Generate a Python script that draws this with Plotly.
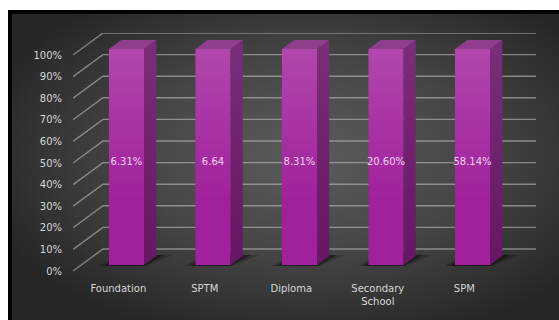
import base64
import plotly.graph_objects as go

# ---- data -------------------------------------------------------------
categories = ["Foundation", "SPTM", "Diploma", "Secondary<br>School", "SPM"]
values = [6.31, 6.64, 8.31, 20.60, 58.14]
value_labels = ["6.31%", "6.64", "8.31%", "20.60%", "58.14%"]
y_ticks = [0, 10, 20, 30, 40, 50, 60, 70, 80, 90, 100]
y_tick_text = [f"{t}%" for t in y_ticks]

# single-series 100% stacked column: each column is its share of its own stack
stack_totals = list(values)
shares = [100.0 * v / t for v, t in zip(values, stack_totals)]

# ---- pseudo-3D projection --------------------------------------------
W, H = 559, 320
PLOT_L, PLOT_R, PLOT_T, PLOT_B = 73, 536, 33, 272   # plot area in px
PX_X = 86.5        # px per category
PX_Y = 2.16        # px per percent
KX = 1.364         # horizontal shift (px) per px of depth
X0, Y0 = 118.3, 271.0   # category 0 centre / 0% baseline on the floor front
D_FRONT, D_BAR, D_BARBACK, D_WALL = 0, 6, 15, 22
BAR_W = 0.405


def axis_range(depth):
    """Axis ranges for a plane lying `depth` px behind the floor front."""
    cx = X0 + depth * KX
    by = Y0 - depth
    return ([(PLOT_L - cx) / PX_X, (PLOT_R - cx) / PX_X],
            [(by - PLOT_B) / PX_Y, (by - PLOT_T) / PX_Y])


def to_plane(i, v, depth, ref_depth, extra_px=0.0):
    """Point at category i, value v in plane `depth`, in units of plane `ref_depth`."""
    dd = depth - ref_depth
    return i + (dd * KX + extra_px) / PX_X, v + dd / PX_Y


fx_range, fy_range = axis_range(D_FRONT)
bx_range, by_range = axis_range(D_BAR)

fig = go.Figure()

# ---- walls: gridlines on the left wall and the back wall (floor-front axes)
i_left = fx_range[0]
i_right = (PLOT_R - X0 - D_WALL * KX) / PX_X
gx, gy = [], []
for t in y_ticks:
    gx += [i_left, i_left + D_WALL * KX / PX_X, i_right + D_WALL * KX / PX_X, None]
    gy += [t, t + D_WALL / PX_Y, t + D_WALL / PX_Y, None]
fig.add_trace(go.Scatter(x=gx, y=gy, mode="lines",
                         line=dict(color="rgba(185,185,185,0.62)", width=1.4),
                         hoverinfo="skip", xaxis="x", yaxis="y"))

# ---- floor shadows, on the floor-front axes so they sit under the columns
bar_i = [k + (D_BAR * KX) / PX_X for k in range(len(categories))]  # column centre on floor-front axes
for grow, alpha in [(9, 0.22), (4, 0.38)]:
    sx, sy = [], []
    for k in range(len(shares)):
        xl, xr = k - BAR_W / 2, k + BAR_W / 2
        pts = [to_plane(xl, 0, D_BAR - 1, D_FRONT, -grow),
               to_plane(xr, 0, D_BAR - 1, D_FRONT, grow * 0.4),
               to_plane(xr, 0, D_BARBACK + 1, D_FRONT, grow * 1.6),
               to_plane(xl, 0, D_BARBACK + 1, D_FRONT, -grow * 0.5)]
        sx += [p[0] for p in pts] + [None]
        sy += [p[1] for p in pts] + [None]
    fig.add_trace(go.Scatter(x=sx, y=sy, mode="lines", fill="toself",
                             fillcolor=f"rgba(0,0,0,{alpha})",
                             line=dict(width=0), hoverinfo="skip",
                             xaxis="x", yaxis="y"))

# ---- column front faces (bar-plane axes)
x_idx = list(range(len(categories)))
fig.add_trace(go.Bar(x=x_idx, y=values, width=BAR_W,
                     marker=dict(color="#a1219c", line=dict(width=0)),
                     hoverinfo="skip", xaxis="x2", yaxis="y2"))

# soft highlight toward the top of each front face
hx, hy = [], []
for k, h in enumerate(shares):
    xl, xr = k - BAR_W / 2, k + BAR_W / 2
    hx += [xl, xr, xr, xl, None]
    hy += [0, 0, h, h, None]
fig.add_trace(go.Scatter(x=hx, y=hy, mode="lines", fill="toself",
                         fillgradient=dict(type="vertical", start=30, stop=100,
                                           colorscale=[[0, "rgba(255,255,255,0)"],
                                                       [1, "rgba(255,255,255,0.17)"]]),
                         line=dict(width=0), hoverinfo="skip",
                         xaxis="x2", yaxis="y2"))

# side faces
dx = (D_BARBACK - D_BAR) * KX / PX_X
dy = (D_BARBACK - D_BAR) / PX_Y
sx, sy = [], []
for k, h in enumerate(shares):
    xr = k + BAR_W / 2
    sx += [xr, xr + dx, xr + dx, xr, None]
    sy += [0, dy, h + dy, h, None]
fig.add_trace(go.Scatter(x=sx, y=sy, mode="lines", fill="toself",
                         fillgradient=dict(type="vertical", start=0, stop=100,
                                           colorscale=[[0, "#661664"], [1, "#7b2d79"]]),
                         line=dict(width=0), hoverinfo="skip",
                         xaxis="x2", yaxis="y2"))

# top faces
tx, ty = [], []
for k, h in enumerate(shares):
    xl, xr = k - BAR_W / 2, k + BAR_W / 2
    tx += [xl, xr, xr + dx, xl + dx, None]
    ty += [h, h, h + dy, h + dy, None]
fig.add_trace(go.Scatter(x=tx, y=ty, mode="lines", fill="toself",
                         fillcolor="#8e3e8b", line=dict(width=0),
                         hoverinfo="skip", xaxis="x2", yaxis="y2"))

# data labels
fig.add_trace(go.Scatter(x=x_idx, y=[h / 2 for h in shares], mode="text",
                         text=value_labels, textposition="bottom center",
                         textfont=dict(family="DejaVu Sans", size=10, color="#f2d2ef"),
                         hoverinfo="skip", xaxis="x2", yaxis="y2"))

# ---- background panel with dark frame on the top/left edges
PANEL_X, PANEL_Y = 8, 10
pw, ph = W - PANEL_X, H - PANEL_Y
svg = (
    f"<svg xmlns='http://www.w3.org/2000/svg' width='{pw}' height='{ph}' "
    f"viewBox='0 0 {pw} {ph}' preserveAspectRatio='none'>"
    "<defs><radialGradient id='g' cx='0.54' cy='0.47' r='0.62'>"
    "<stop offset='0' stop-color='#5c5c5c'/>"
    "<stop offset='0.5' stop-color='#464646'/>"
    "<stop offset='1' stop-color='#262626'/>"
    "</radialGradient></defs>"
    f"<rect width='{pw}' height='{ph}' fill='url(#g)'/>"
    f"<rect x='0' y='0' width='{pw}' height='4' fill='#000'/>"
    f"<rect x='0' y='0' width='4' height='{ph}' fill='#000'/>"
    "</svg>"
)
svg_uri = "data:image/svg+xml;base64," + base64.b64encode(svg.encode()).decode()
plot_w, plot_h = PLOT_R - PLOT_L, PLOT_B - PLOT_T

tick_font = dict(family="DejaVu Sans", size=10, color="#d6d6d6")

fig.update_layout(
    width=W, height=H,
    margin=dict(l=PLOT_L, r=W - PLOT_R, t=PLOT_T, b=H - PLOT_B, pad=0),
    paper_bgcolor="white",
    plot_bgcolor="rgba(0,0,0,0)",
    showlegend=False,
    barmode="stack",
    barnorm="percent",
    images=[dict(source=svg_uri, xref="paper", yref="paper",
                 x=(PANEL_X - PLOT_L) / plot_w, y=(PLOT_B - PANEL_Y) / plot_h,
                 sizex=pw / plot_w, sizey=ph / plot_h,
                 xanchor="left", yanchor="top", sizing="stretch", layer="below")],
    xaxis=dict(range=fx_range, tickvals=x_idx, ticktext=categories,
               showgrid=False, zeroline=False, showline=False, ticks="",
               tickfont=tick_font, ticklabelstandoff=9, fixedrange=True),
    yaxis=dict(range=fy_range, tickvals=y_ticks, ticktext=y_tick_text,
               showgrid=False, zeroline=False, showline=False, ticks="",
               tickfont=tick_font, ticklabelstandoff=10, fixedrange=True),
    xaxis2=dict(range=bx_range, overlaying="x", anchor="y2", visible=False,
                fixedrange=True),
    yaxis2=dict(range=by_range, overlaying="y", anchor="x2", visible=False,
                fixedrange=True),
)

fig.write_html("out.html", config={"displayModeBar": False})
